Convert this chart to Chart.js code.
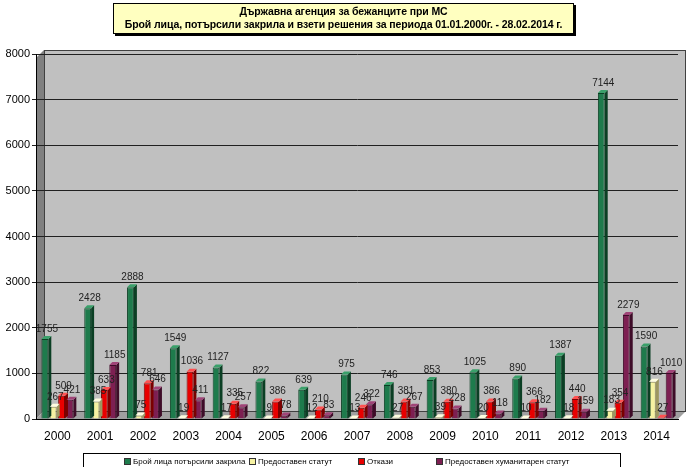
<!DOCTYPE html>
<html>
<head>
<meta charset="utf-8">
<script src="https://cdn.jsdelivr.net/npm/chart.js@4"></script>
<style>
  html, body { margin: 0; padding: 0; background: #fff; }
  #wrap { position: relative; width: 686px; height: 467px; overflow: hidden; }
  #title {
    position: absolute; left: 113px; top: 3px; width: 459px; height: 28px;
    background: #ffffc0; border: 1px solid #000; box-shadow: 2px 2px 0 #000;
    font: bold 10.5px "Liberation Sans", Arial, sans-serif; text-align: center;
    line-height: 13px; padding-top: 1px; color: #000; letter-spacing: -0.1px; white-space: nowrap;
  }
  #legend {
    position: absolute; left: 83px; top: 453px; width: 536px; height: 16px;
    border: 1px solid #000; font: 8px "Liberation Sans", Arial, sans-serif; color: #000;
  }
  #legend span { position: absolute; top: 3px; white-space: nowrap; }
  #legend i { display: inline-block; width: 5px; height: 5px; margin-right: 2px; border: 1px solid #333; vertical-align: -1px; }
</style>
</head>
<body>
<div id="wrap">
  <canvas id="chart" width="686" height="467"></canvas>
  <div id="title">Държавна агенция за бежанците при МС<br>Брой лица, потърсили закрила и взети решения за периода 01.01.2000г. - 28.02.2014 г.</div>
  <div id="legend"></div>
</div>
<script>
const years = ['2000', '2001', '2002', '2003', '2004', '2005', '2006', '2007', '2008', '2009', '2010', '2011', '2012', '2013', '2014'];
const applicants = [1755, 2428, 2888, 1549, 1127, 822, 639, 975, 746, 853, 1025, 890, 1387, 7144, 1590];
const refugeeStatus = [267, 385, 75, 19, 17, 9, 12, 13, 27, 39, 20, 10, 18, 183, 816];
const refusals = [509, 633, 781, 1036, 335, 386, 210, 246, 381, 380, 386, 366, 440, 354, 27];
const humanitarian = [421, 1185, 646, 411, 257, 78, 83, 322, 267, 228, 118, 182, 159, 2279, 1010];

const seriesNames = ['Брой лица потърсили закрила', 'Предоставен статут', 'Откази', 'Предоставен хуманитарен статут'];
const seriesColors = ['#1e7b4c', '#f6f2a2', '#e80000', '#7d1f52'];
const sideColors = ['#0b3f24', '#9c9660', '#7a0000', '#3e0c28'];
const topColors = ['#3aa06a', '#fffde0', '#ff5050', '#a04478'];
const legendX = [40, 165, 274, 352];

// gray walls behind the bars
const wallPlugin = {
  id: 'walls',
  beforeDraw(chart) {
    const { ctx, chartArea: a } = chart;
    ctx.save();
    ctx.fillStyle = '#c0c0c0';
    ctx.fillRect(a.left + 8, a.top - 4, a.right - a.left, a.bottom - a.top - 4);
    ctx.fillStyle = '#808080';
    ctx.beginPath();
    ctx.moveTo(a.left, a.top + 4);
    ctx.lineTo(a.left + 8, a.top - 4);
    ctx.lineTo(a.left + 8, a.bottom - 8);
    ctx.lineTo(a.left, a.bottom);
    ctx.closePath();
    ctx.fill();
    ctx.fillStyle = '#a0a0a0';
    ctx.beginPath();
    ctx.moveTo(a.left, a.bottom);
    ctx.lineTo(a.left + 8, a.bottom - 8);
    ctx.lineTo(a.right + 8, a.bottom - 8);
    ctx.lineTo(a.right, a.bottom);
    ctx.closePath();
    ctx.fill();
    ctx.strokeStyle = '#404040';
    ctx.lineWidth = 1;
    ctx.strokeRect(a.left + 8.5, a.top - 3.5, a.right - a.left - 1, a.bottom - a.top - 4);
    ctx.restore();
  }
};

// fake 3d depth + value labels
const barPlugin = {
  id: 'bars3d',
  afterDatasetsDraw(chart) {
    const ctx = chart.ctx;
    const d = 3;
    ctx.save();
    chart.data.datasets.forEach((ds, i) => {
      chart.getDatasetMeta(i).data.forEach((bar) => {
        const r = bar.x + bar.width / 2;
        const l = bar.x - bar.width / 2;
        ctx.fillStyle = sideColors[i];
        ctx.beginPath();
        ctx.moveTo(r, bar.y);
        ctx.lineTo(r + d, bar.y - d);
        ctx.lineTo(r + d, bar.base - d);
        ctx.lineTo(r, bar.base);
        ctx.closePath();
        ctx.fill();
        ctx.fillStyle = topColors[i];
        ctx.beginPath();
        ctx.moveTo(l, bar.y);
        ctx.lineTo(l + d, bar.y - d);
        ctx.lineTo(r + d, bar.y - d);
        ctx.lineTo(r, bar.y);
        ctx.closePath();
        ctx.fill();
      });
    });
    ctx.font = '10px "Liberation Sans", Arial, sans-serif';
    ctx.fillStyle = '#222';
    ctx.textAlign = 'center';
    ctx.textBaseline = 'bottom';
    chart.data.datasets.forEach((ds, i) => {
      chart.getDatasetMeta(i).data.forEach((bar, j) => {
        ctx.fillText(ds.data[j], bar.x + 2, bar.y - 5);
      });
    });
    ctx.restore();
  }
};

const ctx = document.getElementById('chart').getContext('2d');
new Chart(ctx, {
  type: 'bar',
  data: {
    labels: years,
    datasets: [applicants, refugeeStatus, refusals, humanitarian].map((vals, i) => ({
      label: seriesNames[i],
      data: vals,
      backgroundColor: seriesColors[i],
      borderColor: sideColors[i],
      borderWidth: 1,
      categoryPercentage: 0.78,
      barPercentage: 0.82,
    })),
  },
  options: {
    responsive: false,
    animation: false,
    layout: { padding: { top: 54, right: 8, left: 0, bottom: 0 } },
    plugins: {
      legend: { display: false },
      title: { display: false },
      tooltip: { enabled: false },
    },
    scales: {
      x: {
        afterFit: (s) => { s.height = 48; },
        grid: { display: false, drawTicks: true },
        border: { color: '#000' },
        ticks: { color: '#000', font: { family: '"Liberation Sans", Arial, sans-serif', size: 12 }, padding: 2 },
      },
      y: {
        min: 0,
        max: 8000,
        afterFit: (s) => { s.width = 36; },
        ticks: {
          stepSize: 1000,
          color: '#000',
          font: { family: '"Liberation Sans", Arial, sans-serif', size: 11 },
          padding: 2,
          callback: (v) => String(v),
        },
        grid: { color: '#202020', tickLength: 4, drawOnChartArea: true },
        border: { color: '#000' },
      },
    },
  },
  plugins: [wallPlugin, barPlugin],
});

const legend = document.getElementById('legend');
seriesNames.forEach((name, i) => {
  const s = document.createElement('span');
  s.style.left = legendX[i] + 'px';
  s.innerHTML = '<i style="background:' + seriesColors[i] + '"></i>' + name;
  legend.appendChild(s);
});
</script>
</body>
</html>
